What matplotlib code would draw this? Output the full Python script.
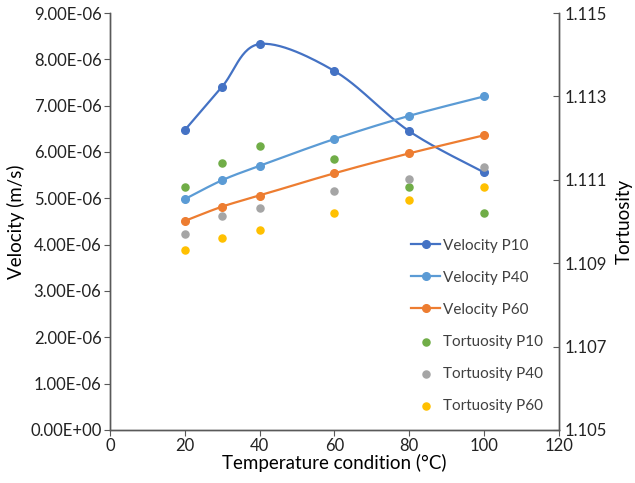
import numpy as np
import matplotlib.pyplot as plt
from matplotlib.ticker import FuncFormatter

plt.rcParams['font.family'] = ['Lato', 'DejaVu Sans']

# ============================================================
# Data
# ============================================================

temperature = [20, 30, 40, 60, 80, 100]

vel_p10 = [6.47e-6, 7.41e-6, 8.33e-6, 7.75e-6, 6.45e-6, 5.56e-6]
vel_p40 = [4.98e-6, 5.39e-6, 5.70e-6, 6.28e-6, 6.78e-6, 7.20e-6]
vel_p60 = [4.51e-6, 4.82e-6, 5.06e-6, 5.54e-6, 5.97e-6, 6.36e-6]

tort_p10 = [1.11082, 1.11141, 1.11181, 1.11151, 1.11082, 1.11021]
tort_p40 = [1.10971, 1.11012, 1.11032, 1.11072, 1.11101, 1.11131]
tort_p60 = [1.10931, 1.10961, 1.10980, 1.11021, 1.11051, 1.11082]

# ============================================================
# Smoothing like a spreadsheet "smoothed line"
# ============================================================

def smooth(x, y, n=30):
    x = np.asarray(x, float)
    y = np.asarray(y, float)
    xs, ys = [], []
    for i in range(len(x) - 1):
        p0 = np.array([x[max(i - 1, 0)], y[max(i - 1, 0)]])
        p1 = np.array([x[i], y[i]])
        p2 = np.array([x[i + 1], y[i + 1]])
        p3 = np.array([x[min(i + 2, len(x) - 1)], y[min(i + 2, len(x) - 1)]])
        c1 = p1 + (p2 - p0) / 6
        c2 = p2 - (p3 - p1) / 6
        t = np.linspace(0, 1, n)[:, None]
        b = ((1 - t)**3 * p1 + 3 * (1 - t)**2 * t * c1
             + 3 * (1 - t) * t**2 * c2 + t**3 * p2)
        xs.extend(b[:, 0])
        ys.extend(b[:, 1])
    return xs, ys

# ============================================================
# Plot
# ============================================================

fig = plt.figure(figsize=(6.35, 4.83), dpi=100)
ax = fig.add_axes([0.173, 0.11, 0.707, 0.863])
ax2 = ax.twinx()

vel_series = [
    (vel_p10, '#4472C4', 'Velocity P10'),
    (vel_p40, '#5B9BD5', 'Velocity P40'),
    (vel_p60, '#ED7D31', 'Velocity P60'),
]
tort_series = [
    (tort_p10, '#70AD47', 'Tortuosity P10'),
    (tort_p40, '#A5A5A5', 'Tortuosity P40'),
    (tort_p60, '#FFC000', 'Tortuosity P60'),
]

handles = []
for vals, col, lab in vel_series:
    sx, sy = smooth(temperature, vals)
    ax.plot(sx, sy, color=col, linewidth=1.6, zorder=3)
    ax.plot(temperature, vals, 'o', color=col, markersize=5.5, zorder=4)
    h, = ax.plot([], [], '-o', color=col, linewidth=1.6, markersize=5.5, label=lab)
    handles.append(h)

for vals, col, lab in tort_series:
    h = ax2.scatter(temperature, vals, color=col, s=26, zorder=2, label=lab)
    handles.append(h)

ax.set_xlim(0, 120)
ax.set_ylim(0, 9e-6)
ax.set_xticks(np.arange(0, 121, 20))
ax.set_yticks(np.arange(0, 9.1e-6, 1e-6))
ax.yaxis.set_major_formatter(FuncFormatter(lambda v, p: '%.2E' % v))

ax2.set_ylim(1.105, 1.115)
ax2.set_yticks([1.105, 1.107, 1.109, 1.111, 1.113, 1.115])
ax2.yaxis.set_major_formatter(FuncFormatter(lambda v, p: '%.3f' % v))

spine_col = '#595959'
for a in (ax, ax2):
    a.spines['top'].set_visible(False)
    for s in ('left', 'right', 'bottom'):
        a.spines[s].set_color(spine_col)
        a.spines[s].set_linewidth(1.0)
ax.tick_params(axis='both', direction='out', length=4, color=spine_col,
               labelsize=12, labelcolor='#222222', pad=2)
ax2.tick_params(axis='y', direction='in', length=4, color=spine_col,
                labelsize=12, labelcolor='#222222', pad=4.5)

ax.set_xlabel('Temperature condition (°C)', fontsize=13.5, labelpad=0)
ax.set_ylabel('Velocity (m/s)', fontsize=13.5, labelpad=4)
ax2.set_ylabel('Tortuosity', fontsize=13.5, labelpad=6)

ax2.legend(handles=handles, loc='lower right', frameon=False, fontsize=11,
           labelspacing=1.18, handlelength=1.9, handletextpad=0.2,
           labelcolor='#404040', bbox_to_anchor=(0.996, 0.008))

fig.savefig('out.png', dpi=100)
